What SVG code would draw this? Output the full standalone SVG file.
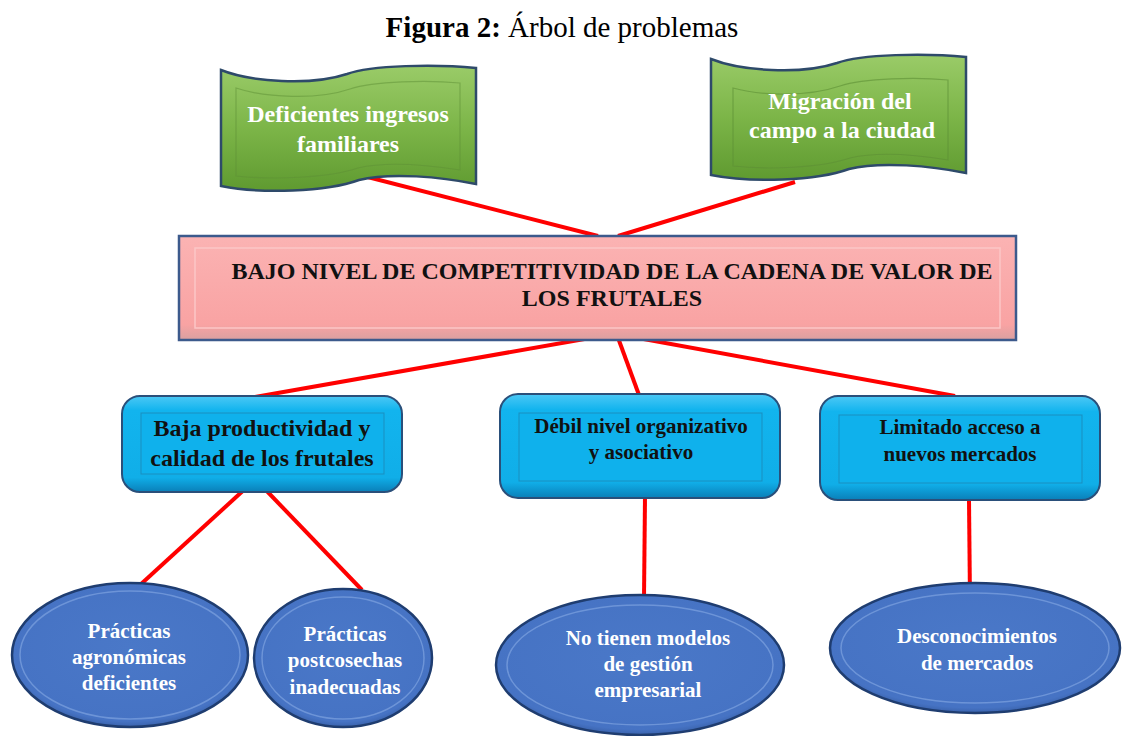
<svg xmlns="http://www.w3.org/2000/svg" width="1122" height="736" viewBox="0 0 1122 736">
<defs>
<linearGradient id="gGreen" x1="0" y1="0" x2="0" y2="1">
<stop offset="0" stop-color="#9acb68"/><stop offset="0.5" stop-color="#7cb548"/><stop offset="1" stop-color="#5f9a30"/>
</linearGradient>
<linearGradient id="gPink" x1="0" y1="0" x2="0" y2="1">
<stop offset="0" stop-color="#fbb3b3"/><stop offset="0.85" stop-color="#f9a3a3"/><stop offset="1" stop-color="#d9a0a0"/>
</linearGradient>
<linearGradient id="gCyan" x1="0" y1="0" x2="0" y2="1">
<stop offset="0" stop-color="#4cc8f5"/><stop offset="0.15" stop-color="#12b4ee"/><stop offset="0.85" stop-color="#10aee8"/><stop offset="1" stop-color="#0a7fb8"/>
</linearGradient>
<radialGradient id="gBlue" cx="0.5" cy="0.45" r="0.6">
<stop offset="0" stop-color="#4a78c8"/><stop offset="0.85" stop-color="#4673c4"/><stop offset="1" stop-color="#2c4f8e"/>
</radialGradient>
<path id="wave" d="M0,2 C30,14 90,18 126,6 C150,-3 215,-4 255,0 L255,116 C220,109 170,104 138,112 C105,124 40,126 0,118 Z"/>
</defs>
<style>
.t{font-family:"Liberation Serif","Times New Roman",serif;font-weight:bold;text-anchor:middle}
.w{fill:#ffffff}
.k{fill:#111111}
.wave{fill:url(#gGreen);stroke:#2e4a6a;stroke-width:2.5}
.inner{fill:none;stroke:#5d8f36;stroke-width:1.2}
.cyan{fill:url(#gCyan);stroke:#2a4f7a;stroke-width:2}
.cin{fill:#0fb1ec;stroke:#1a8fc0;stroke-width:1}
.ell{fill:url(#gBlue);stroke:#1f3d70;stroke-width:2.5}
.ein{fill:none;stroke:#7ea3e0;stroke-width:1.5;opacity:0.7}
.c{stroke:#ff0000;stroke-width:4;fill:none;stroke-linecap:butt}
</style>
<rect width="1122" height="736" fill="#ffffff"/>
<text x="562" y="37" style="font-family:'Liberation Serif','Times New Roman',serif;font-size:29px" text-anchor="middle" fill="#000"><tspan font-weight="bold">Figura 2:</tspan> Árbol de problemas</text>

<g id="connectors">
<line class="c" x1="348" y1="172" x2="598" y2="236"/>
<line class="c" x1="618" y1="236" x2="795" y2="182"/>
<line class="c" x1="613" y1="334" x2="255" y2="397"/>
<line class="c" x1="617" y1="335" x2="639" y2="395"/>
<line class="c" x1="616" y1="334" x2="955" y2="396"/>
<line class="c" x1="246" y1="488" x2="140" y2="585"/>
<line class="c" x1="261" y1="485" x2="362" y2="590"/>
<line class="c" x1="645" y1="497" x2="644" y2="598"/>
<line class="c" x1="969" y1="500" x2="970" y2="601"/>
</g>

<g id="n-ingresos">
<use href="#wave" class="wave" transform="translate(221,68)"/>
<path class="inner" d="M236,88 C266,98 318,100 350,89 C374,81 428,80 460,83 L460,170 C428,165 388,161 358,168 C328,178 273,180 236,176 Z" opacity="0.5"/>
<text class="t w" x="348" y="122" font-size="24">Deficientes ingresos</text>
<text class="t w" x="348" y="152" font-size="24">familiares</text>
</g>

<g id="n-migracion">
<use href="#wave" class="wave" transform="translate(711,57)"/>
<path class="inner" d="M733,88 C762,96 808,97 840,86 C864,78 918,77 948,80 L948,160 C918,155 880,151 850,158 C820,168 768,170 733,166 Z" opacity="0.6"/>
<text class="t w" x="840" y="109" font-size="24">Migración del</text>
<text class="t w" x="842" y="138" font-size="24">campo a la ciudad</text>
</g>

<g id="n-central">
<rect x="179" y="236" width="837" height="104" fill="url(#gPink)" stroke="#3c5a8c" stroke-width="2.5"/>
<rect x="195" y="248" width="805" height="80" fill="none" stroke="#fcc6c6" stroke-width="1.5"/>
<text class="t k" x="612" y="279" font-size="24">BAJO NIVEL DE COMPETITIVIDAD DE LA CADENA DE VALOR DE</text>
<text class="t k" x="612" y="306" font-size="24">LOS FRUTALES</text>
</g>

<g id="n-baja">
<rect x="122" y="396" width="280" height="96" rx="18" class="cyan"/>
<rect x="141" y="413" width="243" height="61" class="cin"/>
<text class="t k" x="262" y="436" font-size="24">Baja productividad y</text>
<text class="t k" x="262" y="466" font-size="24">calidad de los frutales</text>
</g>

<g id="n-debil">
<rect x="500" y="394" width="280" height="104" rx="18" class="cyan"/>
<rect x="519" y="413" width="243" height="68" class="cin"/>
<text class="t k" x="641" y="433" font-size="21">Débil nivel organizativo</text>
<text class="t k" x="641" y="459" font-size="21">y asociativo</text>
</g>

<g id="n-limitado">
<rect x="820" y="396" width="280" height="104" rx="18" class="cyan"/>
<rect x="839" y="415" width="243" height="68" class="cin"/>
<text class="t k" x="960" y="434" font-size="21">Limitado acceso a</text>
<text class="t k" x="960" y="461" font-size="21">nuevos mercados</text>
</g>

<g id="n-agronomicas">
<ellipse cx="130" cy="655" rx="118" ry="72" class="ell"/>
<ellipse cx="130" cy="655" rx="110" ry="64" class="ein"/>
<text class="t w" x="129" y="638" font-size="21">Prácticas</text>
<text class="t w" x="129" y="664" font-size="21">agronómicas</text>
<text class="t w" x="129" y="690" font-size="21">deficientes</text>
</g>

<g id="n-postcosechas">
<ellipse cx="343" cy="658" rx="89" ry="69" class="ell"/>
<ellipse cx="343" cy="658" rx="81" ry="61" class="ein"/>
<text class="t w" x="345" y="641" font-size="21">Prácticas</text>
<text class="t w" x="345" y="667" font-size="21">postcosechas</text>
<text class="t w" x="345" y="694" font-size="21">inadecuadas</text>
</g>

<g id="n-modelos">
<ellipse cx="640" cy="665" rx="144" ry="70" class="ell"/>
<ellipse cx="640" cy="665" rx="133" ry="60" class="ein"/>
<text class="t w" x="648" y="645" font-size="21">No tienen modelos</text>
<text class="t w" x="648" y="671" font-size="21">de gestión</text>
<text class="t w" x="648" y="697" font-size="21">empresarial</text>
</g>

<g id="n-mercados">
<ellipse cx="975" cy="648" rx="145" ry="65" class="ell"/>
<ellipse cx="975" cy="648" rx="134" ry="55" class="ein"/>
<text class="t w" x="977" y="643" font-size="21">Desconocimientos</text>
<text class="t w" x="977" y="670" font-size="21">de mercados</text>
</g>
</svg>
